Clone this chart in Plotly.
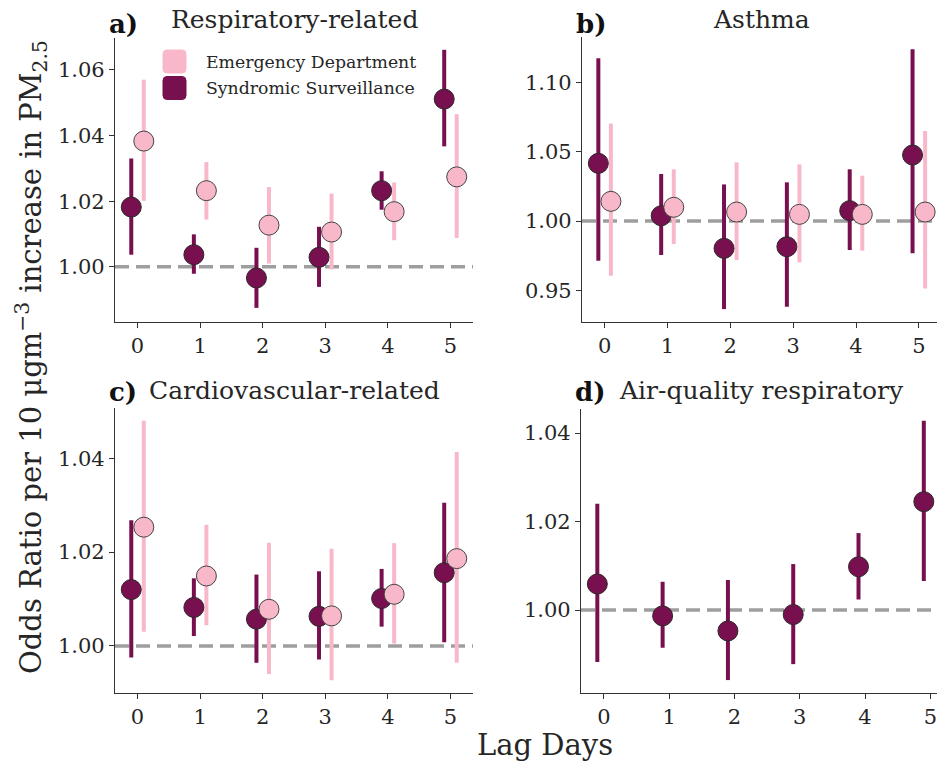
import plotly.graph_objects as go

W, H = 937, 761

lags = [0, 1, 2, 3, 4, 5]
ss_x = [-0.1, 0.9, 1.9, 2.9, 3.9, 4.9]
ed_x = [0.1, 1.1, 2.1, 3.1, 4.1, 5.1]

# Panel a) Respiratory-related
a_ss = [1.0182, 1.0037, 0.9966, 1.0029, 1.0232, 1.0511]
a_ss_lo = [1.0037, 0.9979, 0.9875, 0.9939, 1.0174, 1.0367]
a_ss_hi = [1.0330, 1.0099, 1.0058, 1.0122, 1.0291, 1.0661]
a_ed = [1.0383, 1.0232, 1.0127, 1.0106, 1.0168, 1.0274]
a_ed_lo = [1.0201, 1.0144, 1.0010, 0.9992, 1.0081, 1.0088]
a_ed_hi = [1.0570, 1.0319, 1.0243, 1.0223, 1.0257, 1.0465]

# Panel b) Asthma
b_ss = [1.0416, 1.0038, 0.9803, 0.9815, 1.0075, 1.0476]
b_ss_lo = [0.9714, 0.9755, 0.9365, 0.9382, 0.9791, 0.9767]
b_ss_hi = [1.1173, 1.0339, 1.0264, 1.0279, 1.0373, 1.1238]
b_ed = [1.0142, 1.0099, 1.0065, 1.0048, 1.0048, 1.0065]
b_ed_lo = [0.9606, 0.9834, 0.9719, 0.9702, 0.9786, 0.9514]
b_ed_hi = [1.0704, 1.0373, 1.0423, 1.0409, 1.0327, 1.0649]

# Panel c) Cardiovascular-related
c_ss = [1.0120, 1.0082, 1.0057, 1.0063, 1.0101, 1.0156]
c_ss_lo = [0.9975, 1.0021, 0.9964, 0.9971, 1.0041, 1.0008]
c_ss_hi = [1.0268, 1.0144, 1.0152, 1.0159, 1.0164, 1.0305]
c_ed = [1.0253, 1.0149, 1.0078, 1.0064, 1.0110, 1.0186]
c_ed_lo = [1.0030, 1.0044, 0.9940, 0.9927, 1.0005, 0.9964]
c_ed_hi = [1.0480, 1.0258, 1.0220, 1.0207, 1.0219, 1.0413]

# Panel d) Air-quality respiratory (syndromic surveillance only)
d_ss = [1.0059, 0.9987, 0.9953, 0.9990, 1.0098, 1.0245]
d_ss_lo = [0.9883, 0.9915, 0.9842, 0.9878, 1.0024, 1.0066]
d_ss_hi = [1.0240, 1.0064, 1.0068, 1.0104, 1.0174, 1.0428]

panel_letters = ["a)", "b)", "c)", "d)"]
panel_titles = ["Respiratory-related", "Asthma", "Cardiovascular-related", "Air-quality respiratory"]
yticks_list = [[1.00, 1.02, 1.04, 1.06], [0.95, 1.00, 1.05, 1.10], [1.00, 1.02, 1.04], [1.00, 1.02, 1.04]]
series_names = ["Emergency Department", "Syndromic Surveillance"]

PINK = "#F8B8CA"
DARK = "#78104F"
EDGE = "#2a2a2a"
TXT = "#262626"
FONT = "DejaVu Serif"


def px_x(p):
    return p / W


def px_y(p):
    return 1 - p / H


# axes boxes in pixels: (left, right, top, bottom)
boxes = [(115, 473, 38, 322), (582, 937, 37, 322), (115, 473, 408, 693), (581, 937, 409, 693)]
xranges = [[-0.36, 5.36], [-0.36, 5.289], [-0.36, 5.36], [-0.35, 5.102]]
yranges = [[0.9832, 1.0697], [0.9272, 1.1327], [0.98996, 1.0507], [0.98128, 1.04543]]

panels = [
    (a_ss, a_ss_lo, a_ss_hi, a_ed, a_ed_lo, a_ed_hi),
    (b_ss, b_ss_lo, b_ss_hi, b_ed, b_ed_lo, b_ed_hi),
    (c_ss, c_ss_lo, c_ss_hi, c_ed, c_ed_lo, c_ed_hi),
    (d_ss, d_ss_lo, d_ss_hi, None, None, None),
]

fig = go.Figure()
layout = dict(
    width=W, height=H, margin=dict(l=0, r=0, t=0, b=0),
    paper_bgcolor="white", plot_bgcolor="white", showlegend=False,
    font=dict(family=FONT, color=TXT), template="none",
)
shapes = []
annotations = []


def err(v, lo, hi):
    return [h - m for m, h in zip(v, hi)], [m - l for m, l in zip(v, lo)]


for i, (ss, ss_lo, ss_hi, ed, ed_lo, ed_hi) in enumerate(panels):
    sfx = "" if i == 0 else str(i + 1)
    xa, ya = "x" + sfx, "y" + sfx
    l, r, t, b = boxes[i]
    layout["xaxis" + sfx] = dict(
        domain=[px_x(l), px_x(r)], range=xranges[i], anchor=ya,
        tickvals=lags, ticktext=[str(v) for v in lags],
        showline=True, linecolor="#333333", linewidth=1.3, showgrid=False, zeroline=False,
        ticks="outside", ticklen=5, tickwidth=1.3, tickcolor="#333333",
        tickfont=dict(family=FONT, size=21, color=TXT), automargin=False,
        ticklabeloverflow="allow",
    )
    layout["yaxis" + sfx] = dict(
        domain=[px_y(b), px_y(t)], range=yranges[i], anchor=xa,
        tickvals=yticks_list[i], ticktext=["%.2f" % v for v in yticks_list[i]],
        showline=True, linecolor="#333333", linewidth=1.3, showgrid=False, zeroline=False,
        ticks="outside", ticklen=5, tickwidth=1.3, tickcolor="#333333",
        tickfont=dict(family=FONT, size=21, color=TXT), automargin=False,
    )
    # reference line at OR = 1
    shapes.append(dict(type="line", xref=xa + " domain", yref=ya, x0=0, x1=1, y0=1.0, y1=1.0,
                       line=dict(color="#9E9E9E", width=3.5, dash="14px,7px"), layer="below"))

    # error bars (no markers)
    up, dn = err(ss, ss_lo, ss_hi)
    fig.add_trace(go.Scatter(x=ss_x, y=ss, mode="markers", xaxis=xa, yaxis=ya,
                             marker=dict(size=1, color="rgba(0,0,0,0)"),
                             error_y=dict(type="data", array=up, arrayminus=dn, symmetric=False,
                                          thickness=4, width=0, color=DARK), hoverinfo="skip"))
    if ed is not None:
        up2, dn2 = err(ed, ed_lo, ed_hi)
        fig.add_trace(go.Scatter(x=ed_x, y=ed, mode="markers", xaxis=xa, yaxis=ya,
                                 marker=dict(size=1, color="rgba(0,0,0,0)"),
                                 error_y=dict(type="data", array=up2, arrayminus=dn2, symmetric=False,
                                              thickness=4, width=0, color=PINK), hoverinfo="skip"))
    fig.add_trace(go.Scatter(x=ss_x, y=ss, mode="markers", xaxis=xa, yaxis=ya, name=series_names[1],
                             marker=dict(size=20, color=DARK, line=dict(color=EDGE, width=1))))
    if ed is not None:
        fig.add_trace(go.Scatter(x=ed_x, y=ed, mode="markers", xaxis=xa, yaxis=ya, name=series_names[0],
                                 marker=dict(size=20, color=PINK, line=dict(color="#444444", width=1))))

    # panel letter and title
    cy = 24 if i < 2 else 392
    annotations.append(dict(text="<b>" + panel_letters[i] + "</b>", x=px_x(l - 8), y=px_y(cy),
                            xref="paper", yref="paper", xanchor="left", yanchor="middle",
                            showarrow=False, font=dict(family=FONT, size=26, color="#111111")))
    tcy = 19 if i < 2 else 390
    annotations.append(dict(text=panel_titles[i], x=px_x((l + (r if i % 2 == 0 else 941)) / 2),
                            y=px_y(tcy), xref="paper", yref="paper", xanchor="center",
                            yanchor="middle", showarrow=False, font=dict(family=FONT, size=25, color=TXT)))


def rounded_square(x0, y0, x1, y1, rad):
    # pixel coordinates -> paper path with rounded corners
    X = lambda v: px_x(v)
    Y = lambda v: px_y(v)
    return (f"M {X(x0 + rad)},{Y(y0)} L {X(x1 - rad)},{Y(y0)} Q {X(x1)},{Y(y0)} {X(x1)},{Y(y0 + rad)} "
            f"L {X(x1)},{Y(y1 - rad)} Q {X(x1)},{Y(y1)} {X(x1 - rad)},{Y(y1)} "
            f"L {X(x0 + rad)},{Y(y1)} Q {X(x0)},{Y(y1)} {X(x0)},{Y(y1 - rad)} "
            f"L {X(x0)},{Y(y0 + rad)} Q {X(x0)},{Y(y0)} {X(x0 + rad)},{Y(y0)} Z")


# legend (panel a)
leg_items = [(series_names[0], PINK, 61.5), (series_names[1], DARK, 88)]
for name, col, cy in leg_items:
    shapes.append(dict(type="path", xref="paper", yref="paper",
                       path=rounded_square(163, cy - 11.5, 186, cy + 11.5, 4),
                       fillcolor=col, line=dict(color=col, width=1)))
    annotations.append(dict(text=name, x=px_x(204), y=px_y(cy), xref="paper", yref="paper",
                            xanchor="left", yanchor="middle", showarrow=False,
                            font=dict(family=FONT, size=17.3, color=TXT)))

# shared axis labels
annotations.append(dict(text="Odds Ratio per 10 μgm<sup>−3</sup> increase in PM<sub>2.5</sub>",
                        x=px_x(31), y=px_y(357), xref="paper", yref="paper", textangle=-90,
                        xanchor="center", yanchor="middle", showarrow=False,
                        font=dict(family=FONT, size=29, color=TXT)))
annotations.append(dict(text="Lag Days", x=px_x(545), y=px_y(745), xref="paper", yref="paper",
                        xanchor="center", yanchor="middle", showarrow=False,
                        font=dict(family=FONT, size=29, color=TXT)))

layout["shapes"] = shapes
layout["annotations"] = annotations
fig.update_layout(**layout)
fig.write_html("out.html")
